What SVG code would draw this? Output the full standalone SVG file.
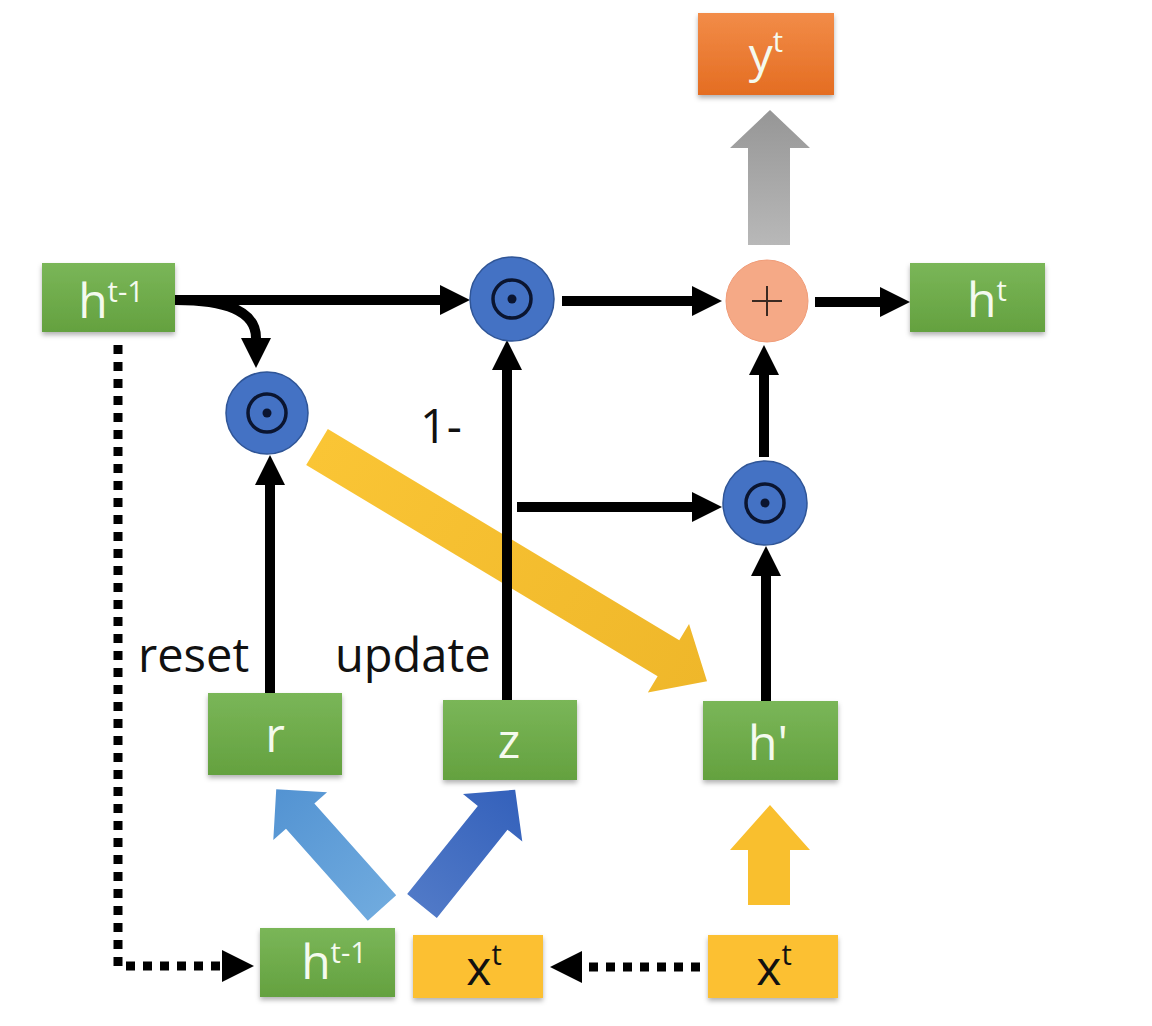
<svg xmlns="http://www.w3.org/2000/svg" width="1152" height="1026" viewBox="0 0 1152 1026">
<defs>
<linearGradient id="gGreen" x1="0" y1="0" x2="0" y2="1"><stop offset="0" stop-color="#7AB658"/><stop offset="1" stop-color="#64A13F"/></linearGradient>
<linearGradient id="gOrange" x1="0" y1="0" x2="0" y2="1"><stop offset="0" stop-color="#F28C48"/><stop offset="1" stop-color="#E46D22"/></linearGradient>
<linearGradient id="gGray" x1="0" y1="0" x2="0" y2="1"><stop offset="0" stop-color="#969696"/><stop offset="1" stop-color="#B8B8B8"/></linearGradient>
<linearGradient id="gYellow" x1="0" y1="0" x2="1" y2="0"><stop offset="0" stop-color="#FAC535"/><stop offset="1" stop-color="#EFB72A"/></linearGradient>
<linearGradient id="gLBlue" x1="0" y1="0" x2="1" y2="0"><stop offset="0" stop-color="#6FAADE"/><stop offset="1" stop-color="#5393D2"/></linearGradient>
<linearGradient id="gDBlue" x1="0" y1="0" x2="1" y2="0"><stop offset="0" stop-color="#5079C7"/><stop offset="1" stop-color="#3461BB"/></linearGradient>
<filter id="sh" x="-20%" y="-20%" width="140%" height="150%"><feDropShadow dx="0" dy="3" stdDeviation="2.5" flood-color="#000" flood-opacity="0.3"/></filter>
<marker id="ah" markerUnits="userSpaceOnUse" viewBox="0 0 30 30" markerWidth="30" markerHeight="30" refX="0" refY="15" orient="auto"><path d="M0,0 L30,15 L0,30 z" fill="#000"/></marker>
<marker id="ahd" markerUnits="userSpaceOnUse" viewBox="0 0 32 32" markerWidth="32" markerHeight="32" refX="0" refY="16" orient="auto"><path d="M0,0 L32,16 L0,32 z" fill="#000"/></marker>
</defs>
<style>
.green{fill:url(#gGreen);filter:url(#sh)}
.yellow{fill:#FCC030;filter:url(#sh)}
.orange{fill:url(#gOrange);filter:url(#sh)}
.lw{font-family:"Open Sans","Liberation Sans",sans-serif;font-size:48px;fill:#F4FAEE}
.lb{font-family:"Open Sans","Liberation Sans",sans-serif;font-size:48px;fill:#111}
.sup{font-size:29px}
.lbl{font-family:"Open Sans","Liberation Sans",sans-serif;font-size:47px;fill:#111}
.op{fill:#4472C4;stroke:#2F5597;stroke-width:1.5}
.ring{fill:none;stroke:#0B1530;stroke-width:3.5}
.dot{fill:#0B1530}
.con{fill:none;stroke:#000;stroke-width:10;marker-end:url(#ah)}
.dotted{fill:none;stroke:#000;stroke-width:9;stroke-dasharray:9 8;marker-end:url(#ahd)}
</style>
<rect width="1152" height="1026" fill="#FFFFFF"/>

<!-- fat arrows -->
<g id="fat-arrows">
<polygon points="748,245 748,148 730,148 770,110 810,148 790,148 790,245" fill="url(#gGray)"/>
<polygon transform="translate(317,447) rotate(31)" points="0,-21 410,-21 410,-40 455,0 410,40 410,21 0,21" fill="url(#gYellow)"/>
<polygon transform="translate(382,908) rotate(-131.7)" points="0,-19 123,-19 123,-36 159,0 123,36 123,19 0,19" fill="url(#gLBlue)"/>
<polygon transform="translate(422,906) rotate(-51.3)" points="0,-19 113,-19 113,-38 149,0 113,38 113,19 0,19" fill="url(#gDBlue)"/>
<polygon points="748,905 748,850 730,850 770,805 810,850 790,850 790,905" fill="#F9BF2E"/>
</g>

<g id="connectors">
<path class="con" d="M175 300 H440"/>
<path class="con" d="M176 300 C232 300 256 314 256 338"/>
<path class="con" d="M562 301 H692"/>
<path class="con" d="M815 302 H880"/>
<path class="con" d="M270 693 V485"/>
<path class="con" d="M507 700 V370"/>
<path class="con" d="M517 507 H692"/>
<path class="con" d="M766 701 V576"/>
<path class="con" d="M764 457 V375"/>
<path class="dotted" d="M118 345 V966 H222"/>
<path class="dotted" d="M700 967 H582"/>
</g>

<g id="node-y">
<rect class="orange" x="698" y="13" width="136" height="82"/>
<text class="lw" x="766" y="72" text-anchor="middle">y<tspan class="sup" dy="-20">t</tspan></text>
</g>

<g id="node-hprev">
<rect class="green" x="42" y="263" width="133" height="69"/>
<text class="lw" x="111" y="318" text-anchor="middle">h<tspan class="sup" dy="-16">t-1</tspan></text>
</g>

<g id="node-ht">
<rect class="green" x="910" y="263" width="135" height="69"/>
<text class="lw" x="987" y="317" text-anchor="middle">h<tspan class="sup" dy="-16">t</tspan></text>
</g>

<g id="op-mul-top">
<circle class="op" cx="512" cy="299" r="42"/>
<circle class="ring" cx="512" cy="299" r="19"/>
<circle class="dot" cx="512" cy="299" r="4.5"/>
</g>

<g id="op-plus">
<circle cx="767" cy="301" r="41" fill="#F5A986" stroke="#F09C78" stroke-width="1"/>
<path d="M752 301 H782 M767 286 V316" stroke="#3A2A22" stroke-width="2" fill="none"/>
</g>

<g id="op-mul-reset">
<circle class="op" cx="267" cy="413" r="41"/>
<circle class="ring" cx="267" cy="413" r="19"/>
<circle class="dot" cx="267" cy="413" r="4.5"/>
</g>

<g id="op-mul-right">
<circle class="op" cx="765" cy="503" r="42"/>
<circle class="ring" cx="765" cy="503" r="19"/>
<circle class="dot" cx="765" cy="503" r="4.5"/>
</g>

<g id="labels">
<text class="lbl" x="420" y="443">1-</text>
<text class="lbl" x="138" y="672">reset</text>
<text class="lbl" x="335" y="672">update</text>
</g>

<g id="node-r">
<rect class="green" x="208" y="693" width="134" height="82"/>
<text class="lw" x="275" y="752" text-anchor="middle">r</text>
</g>

<g id="node-z">
<rect class="green" x="443" y="700" width="134" height="80"/>
<text class="lw" x="509" y="758" text-anchor="middle">z</text>
</g>

<g id="node-hcand">
<rect class="green" x="703" y="701" width="135" height="79"/>
<text class="lw" x="768" y="760" text-anchor="middle">h'</text>
</g>

<g id="node-hprev-bottom">
<rect class="green" x="260" y="928" width="135" height="69"/>
<text class="lw" x="334" y="979" text-anchor="middle">h<tspan class="sup" dy="-16">t-1</tspan></text>
</g>

<g id="node-x-mid">
<rect class="yellow" x="413" y="935" width="130" height="63"/>
<text class="lb" x="484" y="985" text-anchor="middle">x<tspan class="sup" dy="-20">t</tspan></text>
</g>

<g id="node-x-right">
<rect class="yellow" x="708" y="935" width="130" height="63"/>
<text class="lb" x="774" y="985" text-anchor="middle">x<tspan class="sup" dy="-20">t</tspan></text>
</g>
</svg>
